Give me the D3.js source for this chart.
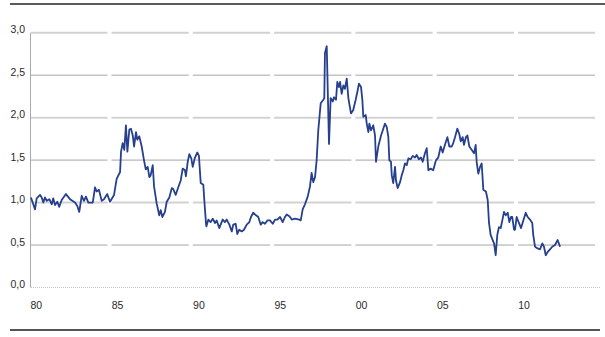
<!DOCTYPE html>
<html>
<head>
<meta charset="utf-8">
<script src="https://cdn.jsdelivr.net/npm/d3@7"></script>
<style>
  body { margin: 0; background: #fff; }
  svg { display: block; }
  .tickLabel { font-family: "Liberation Sans", Arial, sans-serif; font-size: 10.5px; fill: #2a2a2a; }
</style>
</head>
<body>
<div id="chart"></div>
<script>
// Decimal year of each point
const years = [
  1980.17, 1980.42, 1980.52, 1980.73, 1980.83, 1980.93, 1981.03, 1981.14, 1981.30, 1981.45,
  1981.54, 1981.65, 1981.79, 1981.91, 1982.06, 1982.32, 1982.57, 1982.88, 1983.02, 1983.14,
  1983.29, 1983.43, 1983.55, 1983.70, 1983.97, 1984.11, 1984.21, 1984.35, 1984.52, 1984.66,
  1984.86, 1985.03, 1985.28, 1985.44, 1985.65, 1985.71, 1985.81, 1985.91, 1986.01, 1986.10,
  1986.22, 1986.32, 1986.43, 1986.51, 1986.63, 1986.71, 1986.83, 1986.98, 1987.12, 1987.23,
  1987.35, 1987.45, 1987.53, 1987.66, 1987.74, 1987.90, 1988.06, 1988.15, 1988.25, 1988.41,
  1988.52, 1988.68, 1988.83, 1988.92, 1989.07, 1989.23, 1989.38, 1989.50, 1989.64, 1989.70,
  1989.81, 1989.91, 1990.03, 1990.12, 1990.24, 1990.40, 1990.50, 1990.61, 1990.77, 1990.83,
  1990.94, 1990.96, 1991.08, 1991.22, 1991.35, 1991.49, 1991.59, 1991.75, 1991.96, 1992.10,
  1992.21, 1992.37, 1992.52, 1992.61, 1992.76, 1992.86, 1992.98, 1993.13, 1993.27, 1993.44,
  1993.60, 1993.70, 1993.84, 1994.01, 1994.15, 1994.30, 1994.42, 1994.56, 1994.71, 1994.87,
  1995.04, 1995.18, 1995.32, 1995.49, 1995.65, 1995.79, 1995.90, 1996.06, 1996.21, 1996.41,
  1996.67, 1996.76, 1996.88, 1997.02, 1997.19, 1997.33, 1997.43, 1997.53, 1997.64, 1997.74,
  1997.84, 1997.99, 1998.15, 1998.21, 1998.25, 1998.36, 1998.50, 1998.60, 1998.73, 1998.81,
  1998.93, 1999.01, 1999.11, 1999.18, 1999.28, 1999.38, 1999.48, 1999.59, 1999.69, 1999.85,
  1999.99, 2000.14, 2000.26, 2000.34, 2000.47, 2000.55, 2000.61, 2000.76, 2000.82, 2000.92,
  2000.98, 2001.08, 2001.22, 2001.33, 2001.39, 2001.53, 2001.70, 2001.84, 2001.94, 2002.05,
  2002.15, 2002.21, 2002.31, 2002.36, 2002.45, 2002.56, 2002.62, 2002.72, 2002.87, 2002.97,
  2003.07, 2003.17, 2003.28, 2003.38, 2003.52, 2003.65, 2003.79, 2003.89, 2004.03, 2004.16,
  2004.26, 2004.40, 2004.51, 2004.61, 2004.75, 2004.91, 2005.08, 2005.22, 2005.37, 2005.49,
  2005.63, 2005.78, 2005.90, 2006.05, 2006.14, 2006.25, 2006.39, 2006.51, 2006.60, 2006.72,
  2006.80, 2006.92, 2007.01, 2007.13, 2007.28, 2007.42, 2007.52, 2007.58, 2007.68, 2007.79,
  2007.89, 2007.99, 2008.15, 2008.26, 2008.34, 2008.44, 2008.54, 2008.65, 2008.75, 2008.85,
  2008.95, 2009.06, 2009.16, 2009.26, 2009.37, 2009.49, 2009.59, 2009.69, 2009.77, 2009.88,
  2009.94, 2010.04, 2010.18, 2010.31, 2010.45, 2010.60, 2010.72, 2010.86, 2011.00, 2011.06,
  2011.17, 2011.33, 2011.48, 2011.62, 2011.72, 2011.83, 2011.95, 2012.09, 2012.23, 2012.40,
  2012.56, 2012.71
];

const values = [
  1.06, 0.92, 1.05, 1.09, 1.06, 1.00, 1.06, 1.02, 1.04, 0.98,
  1.05, 0.97, 1.01, 0.95, 1.03, 1.10, 1.04, 1.00, 0.96, 0.89,
  1.08, 1.02, 1.07, 1.00, 1.00, 1.18, 1.13, 1.15, 1.02, 1.04,
  1.10, 1.01, 1.09, 1.28, 1.36, 1.60, 1.70, 1.62, 1.91, 1.60,
  1.86, 1.87, 1.79, 1.66, 1.83, 1.74, 1.78, 1.66, 1.50, 1.39,
  1.42, 1.30, 1.32, 1.44, 1.19, 0.99, 0.85, 0.91, 0.83, 0.89,
  1.01, 1.06, 1.17, 1.16, 1.09, 1.18, 1.26, 1.40, 1.38, 1.31,
  1.48, 1.57, 1.52, 1.42, 1.52, 1.59, 1.55, 1.23, 1.21, 1.03,
  0.74, 0.72, 0.80, 0.77, 0.81, 0.76, 0.79, 0.70, 0.80, 0.77,
  0.80, 0.74, 0.66, 0.74, 0.75, 0.63, 0.68, 0.66, 0.68, 0.74,
  0.77, 0.83, 0.88, 0.85, 0.83, 0.74, 0.77, 0.75, 0.79, 0.79,
  0.75, 0.80, 0.80, 0.83, 0.77, 0.83, 0.86, 0.84, 0.80, 0.81,
  0.80, 0.79, 0.92, 0.98, 1.07, 1.19, 1.35, 1.24, 1.30, 1.50,
  1.85, 2.17, 2.21, 2.23, 2.76, 2.84, 1.69, 2.23, 2.19, 2.24,
  2.21, 2.42, 2.36, 2.42, 2.28, 2.38, 2.34, 2.46, 2.23, 2.05,
  2.09, 2.21, 2.32, 2.40, 2.36, 2.21, 2.01, 2.03, 1.93, 1.83,
  1.93, 1.85, 1.91, 1.79, 1.48, 1.66, 1.79, 1.87, 1.93, 1.89,
  1.77, 1.50, 1.48, 1.32, 1.23, 1.42, 1.26, 1.17, 1.24, 1.32,
  1.38, 1.46, 1.44, 1.52, 1.51, 1.55, 1.53, 1.56, 1.51, 1.53,
  1.48, 1.58, 1.64, 1.38, 1.40, 1.38, 1.50, 1.53, 1.66, 1.59,
  1.68, 1.77, 1.66, 1.66, 1.70, 1.77, 1.87, 1.81, 1.72, 1.77,
  1.68, 1.77, 1.79, 1.66, 1.62, 1.58, 1.68, 1.48, 1.34, 1.42,
  1.46, 1.15, 1.13, 1.03, 0.76, 0.62, 0.57, 0.52, 0.38, 0.62,
  0.71, 0.70, 0.79, 0.89, 0.85, 0.88, 0.77, 0.83, 0.83, 0.68,
  0.68, 0.83, 0.76, 0.70, 0.79, 0.88, 0.83, 0.80, 0.76, 0.62,
  0.48, 0.46, 0.45, 0.52, 0.48, 0.38, 0.42, 0.45, 0.48, 0.50,
  0.56, 0.48
];

const yTicks = [0, 0.5, 1.0, 1.5, 2.0, 2.5, 3.0];
const xTickYears = [1980, 1985, 1990, 1995, 2000, 2005, 2010];
const xTickLabels = ['80', '85', '90', '95', '00', '05', '10'];

const data = years.map((y, i) => ({ year: y, value: values[i] }));

const width = 605, height = 337;
const axisLeft = 31, gridRight = 595;

const svg = d3.select('#chart')
  .append('svg')
  .attr('width', width)
  .attr('height', height);

// Scales
const x = d3.scaleLinear()
  .domain([1980, 2015])
  .range([28.2, 597.3]);

const y = d3.scaleLinear()
  .domain([0, 3])
  .range([287.5, 32.7]);

// Top and bottom rules
svg.append('line')
  .attr('x1', 10).attr('x2', 605)
  .attr('y1', 4).attr('y2', 4)
  .attr('stroke', '#222').attr('stroke-width', 1.5);

svg.append('line')
  .attr('x1', 10).attr('x2', 600)
  .attr('y1', 330).attr('y2', 330)
  .attr('stroke', '#555').attr('stroke-width', 2);

// Gridlines, broken at every five-year boundary
const bounds = xTickYears.concat([2015]);
const grid = svg.append('g');
yTicks.filter(t => t > 0).forEach(t => {
  const major = Math.round(t * 10) % 10 === 0;
  for (let i = 0; i < bounds.length - 1; i++) {
    const x0 = i === 0 ? axisLeft : x(bounds[i]) + 2;
    const x1 = i === bounds.length - 2 ? gridRight : x(bounds[i + 1]) - 2;
    grid.append('line')
      .attr('x1', x0).attr('x2', x1)
      .attr('y1', y(t)).attr('y2', y(t))
      .attr('stroke', major ? '#d2d2d2' : '#a6a6a6')
      .attr('stroke-width', major ? 2 : 1);
  }
});

// Baseline (dotted) and left axis
svg.append('line')
  .attr('x1', axisLeft).attr('x2', 600)
  .attr('y1', y(0)).attr('y2', y(0))
  .attr('stroke', '#c8c8c8').attr('stroke-width', 1)
  .attr('stroke-dasharray', '1,1');

svg.append('line')
  .attr('x1', axisLeft - 0.5).attr('x2', axisLeft - 0.5)
  .attr('y1', y(3)).attr('y2', y(0))
  .attr('stroke', '#aaa').attr('stroke-width', 1);

// Y labels
const fmt = d3.format('.1f');
svg.append('g')
  .selectAll('text')
  .data(yTicks)
  .join('text')
  .attr('class', 'tickLabel')
  .attr('x', 25)
  .attr('y', d => y(d) + 0.5)
  .attr('text-anchor', 'end')
  .text(d => fmt(d).replace('.', ','));

// X labels, centred in the middle of the year
svg.append('g')
  .selectAll('text')
  .data(xTickYears)
  .join('text')
  .attr('class', 'tickLabel')
  .attr('x', d => x(d + 0.5))
  .attr('y', 309)
  .attr('text-anchor', 'middle')
  .text((d, i) => xTickLabels[i]);

// The line
svg.append('path')
  .datum(data)
  .attr('fill', 'none')
  .attr('stroke', '#263f8e')
  .attr('stroke-width', 1.8)
  .attr('stroke-linejoin', 'round')
  .attr('d', d3.line()
    .x(d => x(d.year))
    .y(d => y(d.value)));
</script>
</body>
</html>
